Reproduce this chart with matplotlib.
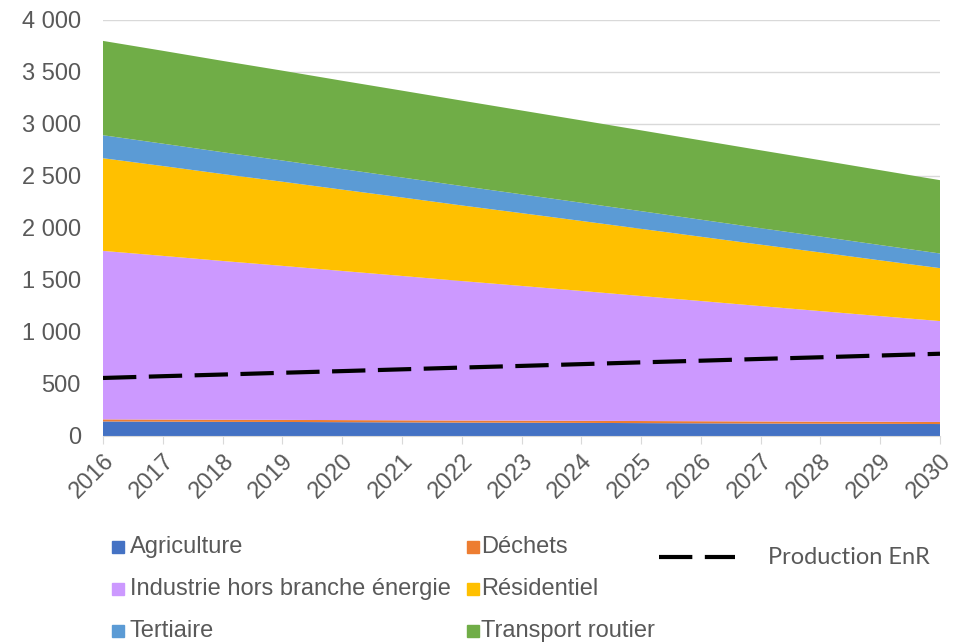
import matplotlib
matplotlib.use("Agg")
import matplotlib.pyplot as plt
from matplotlib.patches import Rectangle
from matplotlib.lines import Line2D
from matplotlib.ticker import FuncFormatter

years = list(range(2016, 2031))

agriculture = [140, 138, 136, 135, 133, 131, 129, 128, 126, 124, 122, 120, 118, 117, 115]
dechets = [20, 20, 20, 20, 20, 20, 20, 20, 20, 20, 20, 20, 20, 20, 20]
industrie = [1620, 1574, 1527, 1481, 1434, 1388, 1341, 1295, 1249, 1202, 1156, 1109, 1063, 1016, 970]
residentiel = [891, 864, 836, 809, 782, 755, 727, 700, 673, 646, 618, 591, 564, 536, 509]
tertiaire = [221, 215, 210, 204, 198, 192, 187, 181, 175, 170, 164, 158, 153, 147, 141]
transport = [907, 893, 878, 864, 849, 835, 821, 806, 792, 777, 763, 749, 734, 720, 705]
production_enr = [558, 575, 591, 608, 624, 641, 658, 674, 691, 708, 724, 741, 757, 774, 791]

labels = ["Agriculture", "Déchets", "Industrie hors branche énergie",
          "Résidentiel", "Tertiaire", "Transport routier"]
colors = ["#4472C4", "#ED7D31", "#CC99FF", "#FFC000", "#5B9BD5", "#70AD47"]

grey = "#595959"
plt.rcParams["font.family"] = ["Liberation Sans", "DejaVu Sans"]

fig = plt.figure(figsize=(9.6, 6.44), dpi=100)
W, H = 960, 644
ax = fig.add_axes([103 / W, 1 - 436 / H, (940 - 103) / W, (436 - 20) / H])

ax.stackplot(years, agriculture, dechets, industrie, residentiel, tertiaire, transport,
             colors=colors, linewidth=0, zorder=2)
ax.plot(years, production_enr, color="black", lw=3, dashes=(8, 3), zorder=3)

ax.set_xlim(2016, 2030)
ax.set_ylim(0, 4000)
ax.set_yticks(range(0, 4001, 500))
ax.yaxis.set_major_formatter(FuncFormatter(lambda v, p: f"{int(v):,}".replace(",", " ")))
ax.set_xticks(years)
ax.set_xticklabels([str(y) for y in years], rotation=45, ha="right", rotation_mode="anchor")

ax.grid(axis="y", color="#D9D9D9", lw=1, zorder=0)
for s in ["top", "right", "left"]:
    ax.spines[s].set_visible(False)
ax.spines["bottom"].set_color("#D9D9D9")
ax.spines["bottom"].set_zorder(4)
ax.tick_params(axis="y", length=0, pad=16, labelsize=17, labelcolor=grey)
ax.tick_params(axis="x", length=6, color="#D9D9D9", pad=4, labelsize=17, labelcolor=grey)

# legend, Excel style
rows = [547, 589, 631]
for i, (lab, col) in enumerate(zip(labels, colors)):
    r, c = divmod(i, 2)
    sx = 112 if c == 0 else 467
    tx = 130 if c == 0 else 481
    y = rows[r]
    fig.patches.append(Rectangle((sx / W, 1 - (y + 6) / H), 12 / W, 12 / H,
                                 transform=fig.transFigure, color=col))
    fig.text(tx / W, 1 - y / H, lab, fontsize=17, color=grey, va="center", ha="left")

fig.lines.append(Line2D([659 / W, 735 / W], [1 - 557 / H, 1 - 557 / H],
                        transform=fig.transFigure, color="black", lw=3, dashes=(8, 3)))
fig.text(768 / W, 1 - 557 / H, "Production EnR", fontsize=17, color=grey,
         va="center", ha="left", family=["Lato", "DejaVu Sans"])

fig.savefig("out.png", dpi=100)
